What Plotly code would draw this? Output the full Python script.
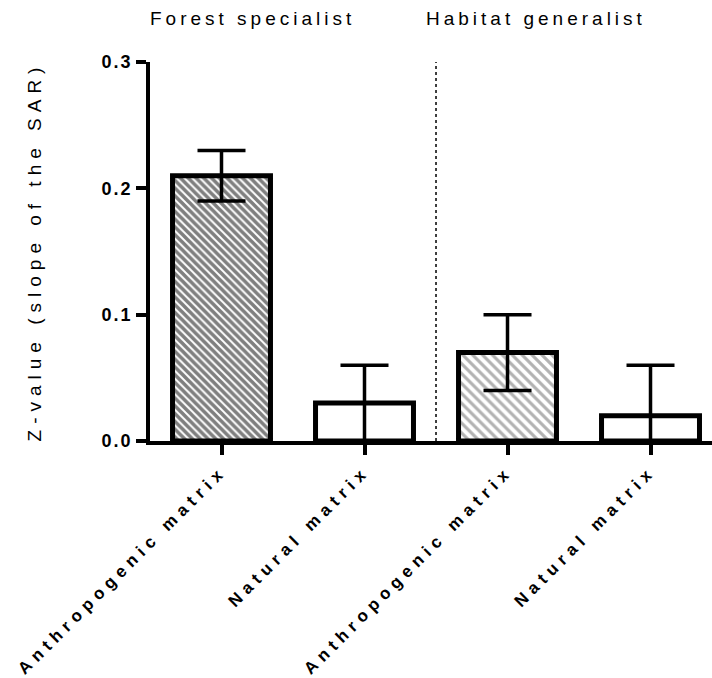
import plotly.graph_objects as go

# Bar positions, labels and values
positions = [0, 1, 2, 3]
matrix_labels = ["Anthropogenic matrix", "Natural matrix", "Anthropogenic matrix", "Natural matrix"]
z_values = [0.21, 0.03, 0.07, 0.02]
err_upper = [0.02, 0.03, 0.03, 0.04]
err_lower = [0.02, 0.03, 0.03, 0.02]
group_labels = ["Forest specialist", "Habitat generalist"]
group_label_x = [0.22, 2.2]
y_ticks = [0.0, 0.1, 0.2, 0.3]

fig = go.Figure()
fig.add_trace(go.Bar(
    x=positions,
    y=z_values,
    width=0.685,
    marker=dict(
        color="white",
        line=dict(color="black", width=5),
        pattern=dict(
            shape=["\\", "", "\\", ""],
            fgcolor=["black", "black", "#666666", "black"],
            bgcolor="white",
            size=[5.5, 6, 7, 6],
            solidity=[0.65, 0.3, 0.45, 0.3],
        ),
    ),
    error_y=dict(
        type="data", symmetric=False,
        array=err_upper, arrayminus=err_lower,
        color="black", thickness=3.5, width=24,
    ),
    showlegend=False,
))

# Dotted divider between the two species groups
fig.add_shape(type="line", x0=1.5, x1=1.5, y0=0, y1=0.3, xref="x", yref="y",
              line=dict(color="black", width=1.5, dash="dot"))

for lbl, gx in zip(group_labels, group_label_x):
    fig.add_annotation(x=gx, y=1.115, xref="x", yref="paper", text=lbl,
                       showarrow=False, xanchor="center", yanchor="middle",
                       font=dict(family="Liberation Sans, Arial", size=19, color="black"))

fig.update_layout(
    width=712, height=678,
    margin=dict(l=150, r=0, t=62, b=237),
    plot_bgcolor="white", paper_bgcolor="white",
    font=dict(family="Liberation Sans, Arial", color="black"),
)
fig.update_xaxes(
    range=[-0.5, 3.43],
    tickvals=positions, ticktext=matrix_labels, tickangle=-45,
    tickfont=dict(size=17, weight="bold", family="Liberation Sans, Arial"),
    showline=True, linecolor="black", linewidth=3.5,
    ticks="outside", ticklen=10, tickwidth=3.5, tickcolor="black",
    showgrid=False, zeroline=False,
)
fig.update_yaxes(
    range=[0, 0.3],
    tickvals=y_ticks, tickformat=".1f",
    tickfont=dict(size=18, weight="bold", family="Liberation Sans, Arial"),
    title=dict(text="Z-value (slope of the SAR)", font=dict(size=19), standoff=62),
    showline=True, linecolor="black", linewidth=3.5,
    ticks="outside", ticklen=10, tickwidth=3.5, tickcolor="black",
    showgrid=False, zeroline=False,
)

spacing_css = (
    "var s=document.createElement('style');"
    "s.textContent='.xtick text{letter-spacing:5.5px}"
    " .ytick text{letter-spacing:2px}"
    " .ytitle{letter-spacing:6px}"
    " .annotation-text{letter-spacing:4px}';"
    "document.head.appendChild(s);"
)
fig.write_html("out.html", post_script=spacing_css)
